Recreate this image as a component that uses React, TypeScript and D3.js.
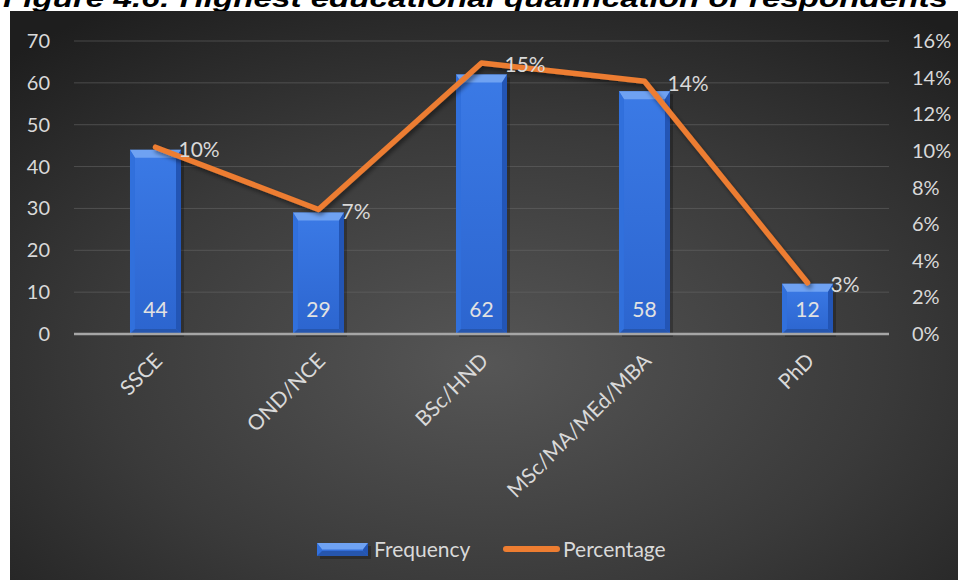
import React from "react";
import * as d3 from "d3";

const categories = ["SSCE", "OND/NCE", "BSc/HND", "MSc/MA/MEd/MBA", "PhD"];
const frequency = [44, 29, 62, 58, 12];
const percentage = [0.102, 0.068, 0.148, 0.138, 0.028];
const percentLabels = ["10%", "7%", "15%", "14%", "3%"];
const leftTicks = [0, 10, 20, 30, 40, 50, 60, 70];
const rightTicks = [0, 0.02, 0.04, 0.06, 0.08, 0.1, 0.12, 0.14, 0.16];
const titleText = "Figure 4.6: Highest educational qualification of respondents";

const W = 958;
const H = 580;
const FONT = "Lato, 'Open Sans', sans-serif";
const TXT = "#d9d9d9";

export default function App() {
  const x = d3.scaleBand<string>().domain(categories).range([74, 889]).padding(0);
  const yL = d3.scaleLinear().domain([0, 70]).range([334, 41]);
  const yR = d3.scaleLinear().domain([0, 0.16]).range([334, 41]);
  const barW = x.bandwidth() * 0.313;
  const cx = (c: string) => (x(c) as number) + x.bandwidth() / 2;

  const lineGen = d3
    .line<number>()
    .x((_, i) => cx(categories[i]))
    .y((d) => yR(d));

  const bevel = (bx: number, top: number, w: number, bottom: number, key: string | number) => {
    const b = Math.min(8, (bottom - top) / 2);
    const s = 5;
    return (
      <g key={key}>
        <rect x={bx + 3} y={top + 3} width={w} height={bottom - top} fill="#000" opacity={0.25} />
        <rect x={bx} y={top} width={w} height={bottom - top} fill="url(#barGrad)" />
        <polygon points={`${bx},${top} ${bx + w},${top} ${bx + w - s},${top + b} ${bx + s},${top + b}`} fill="#6fa2f2" />
        <polygon points={`${bx},${top} ${bx + s},${top + b} ${bx + s},${bottom - s} ${bx},${bottom}`} fill="#3170dc" />
        <polygon points={`${bx + w},${top} ${bx + w - s},${top + b} ${bx + w - s},${bottom - s} ${bx + w},${bottom}`} fill="#2355b5" />
        <polygon points={`${bx},${bottom} ${bx + s},${bottom - s} ${bx + w - s},${bottom - s} ${bx + w},${bottom}`} fill="#2656ae" />
      </g>
    );
  };

  return (
    <svg
      width={W}
      height={H}
      style={{ position: "absolute", left: 0, top: 0, display: "block" }}
      fontFamily={FONT}
    >
      <defs>
        <radialGradient id="bgGrad" cx="52%" cy="62%" r="75%" fx="50%" fy="62%">
          <stop offset="0%" stopColor="#565656" />
          <stop offset="55%" stopColor="#3a3a3a" />
          <stop offset="100%" stopColor="#1e1e1e" />
        </radialGradient>
        <linearGradient id="barGrad" x1="0" y1="0" x2="0" y2="1">
          <stop offset="0%" stopColor="#3b7ae6" />
          <stop offset="100%" stopColor="#2c65cf" />
        </linearGradient>
        <filter id="lineShadow" x="-10%" y="-10%" width="120%" height="120%">
          <feDropShadow dx="2" dy="3" stdDeviation="2" floodColor="#000" floodOpacity="0.45" />
        </filter>
      </defs>
      <rect x={0} y={0} width={W} height={H} fill="#ffffff" />
      <text
        x={3}
        y={7}
        fontFamily="'Liberation Sans', Arial, sans-serif"
        fontWeight="bold"
        fontStyle="italic"
        fontSize={26}
        textLength={945}
        lengthAdjust="spacingAndGlyphs"
        fill="#000"
      >
        {titleText}
      </text>
      <rect x={10} y={11} width={W - 10} height={H - 11} fill="url(#bgGrad)" />

      {/* gridlines */}
      {leftTicks.slice(1).map((t) => (
        <line key={t} x1={74} x2={889} y1={yL(t)} y2={yL(t)} stroke="#6a6a6a" strokeOpacity={0.55} strokeWidth={1} />
      ))}

      {/* left axis labels */}
      {leftTicks.map((t) => (
        <text key={t} x={50} y={yL(t)} dy="0.35em" textAnchor="end" fontSize={20} fill={TXT}>
          {t}
        </text>
      ))}
      {/* right axis labels */}
      {rightTicks.map((t) => (
        <text key={t} x={912} y={yR(t)} dy="0.35em" textAnchor="start" fontSize={20} fill={TXT}>
          {d3.format(".0%")(t)}
        </text>
      ))}

      {/* bars */}
      {categories.map((c, i) => bevel(cx(c) - barW / 2, yL(frequency[i]), barW, yL(0), c))}

      {/* zero line */}
      <line x1={74} x2={889} y1={yL(0)} y2={yL(0)} stroke="#a6a6a6" strokeWidth={2.5} />

      {/* bar labels */}
      {categories.map((c, i) => (
        <text key={c} x={cx(c)} y={yL(0) - 17} textAnchor="middle" fontSize={21} fill="#e2e2e2">
          {frequency[i]}
        </text>
      ))}

      {/* line */}
      <path
        d={lineGen(percentage) || ""}
        fill="none"
        stroke="#ED7D31"
        strokeWidth={5.5}
        strokeLinejoin="round"
        strokeLinecap="round"
        filter="url(#lineShadow)"
      />
      {categories.map((c, i) => (
        <text key={c} x={cx(c) + 23} y={yR(percentage[i]) + 2} dy="0.35em" textAnchor="start" fontSize={21} fill={TXT}>
          {percentLabels[i]}
        </text>
      ))}

      {/* category labels */}
      {categories.map((c) => (
        <text
          key={c}
          transform={`translate(${cx(c) - 3},${351}) rotate(-45)`}
          dy="0.75em"
          textAnchor="end"
          fontSize={21}
          fill={TXT}
        >
          {c}
        </text>
      ))}

      {/* legend */}
      {bevel(317, 543, 51, 556, "leg")}
      <text x={374} y={550} dy="0.35em" fontSize={21} fill={TXT}>
        Frequency
      </text>
      <line x1={506} x2={557} y1={549} y2={549} stroke="#ED7D31" strokeWidth={6} strokeLinecap="round" />
      <text x={563} y={550} dy="0.35em" fontSize={21} fill={TXT}>
        Percentage
      </text>
    </svg>
  );
}
